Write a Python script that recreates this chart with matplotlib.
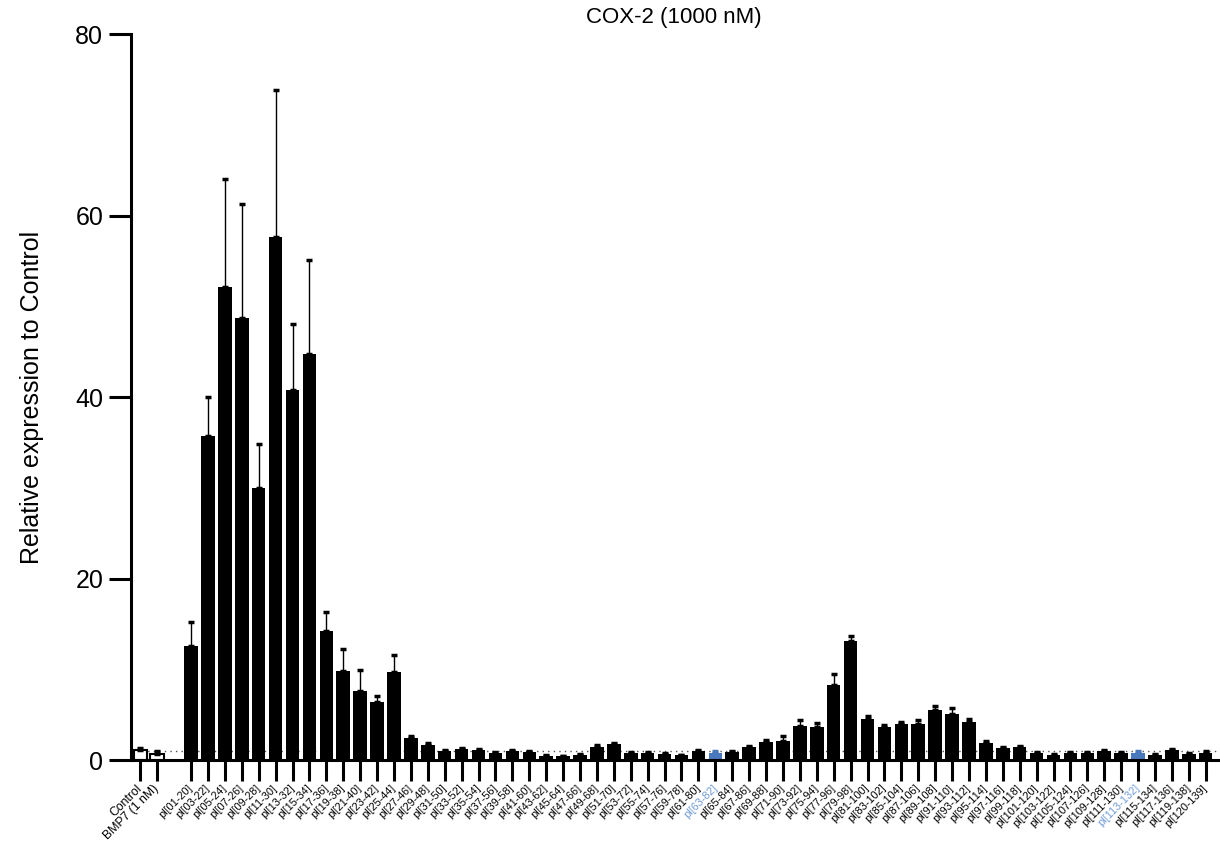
import matplotlib
matplotlib.use('Agg')
import matplotlib.pyplot as plt
import numpy as np

plt.rcParams['font.family'] = ['Liberation Sans', 'DejaVu Sans']

# controls
ctrl_labels = ['Control', 'BMP7 (1 nM)']
ctrl_values = [1.1, 0.7]
ctrl_errors = [0.2, 0.25]

# peptide library (relative expression, mean + SD)
peptide_labels = [
    'pl[01-20]', 'pl[03-22]', 'pl[05-24]', 'pl[07-26]', 'pl[09-28]', 'pl[11-30]',
    'pl[13-32]', 'pl[15-34]', 'pl[17-36]', 'pl[19-38]', 'pl[21-40]', 'pl[23-42]',
    'pl[25-44]', 'pl[27-46]', 'pl[29-48]', 'pl[31-50]', 'pl[33-52]', 'pl[35-54]',
    'pl[37-56]', 'pl[39-58]', 'pl[41-60]', 'pl[43-62]', 'pl[45-64]', 'pl[47-66]',
    'pl[49-68]', 'pl[51-70]', 'pl[53-72]', 'pl[55-74]', 'pl[57-76]', 'pl[59-78]',
    'pl[61-80]', 'pl[63-82]', 'pl[65-84]', 'pl[67-86]', 'pl[69-88]', 'pl[71-90]',
    'pl[73-92]', 'pl[75-94]', 'pl[77-96]', 'pl[79-98]', 'pl[81-100]', 'pl[83-102]',
    'pl[85-104]', 'pl[87-106]', 'pl[89-108]', 'pl[91-110]', 'pl[93-112]', 'pl[95-114]',
    'pl[97-116]', 'pl[99-118]', 'pl[101-120]', 'pl[103-122]', 'pl[105-124]',
    'pl[107-126]', 'pl[109-128]', 'pl[111-130]', 'pl[113-132]', 'pl[115-134]',
    'pl[117-136]', 'pl[119-138]', 'pl[120-139]',
]
peptide_values = [
    12.6, 35.7, 52.1, 48.7, 30.0, 57.6, 40.8, 44.7, 14.2, 9.8, 7.6, 6.4,
    9.7, 2.4, 1.7, 1.0, 1.2, 1.1, 0.8, 1.0, 0.9, 0.45, 0.4, 0.6,
    1.4, 1.8, 0.8, 0.75, 0.65, 0.55, 1.0, 0.8, 0.9, 1.45, 2.0, 2.1,
    3.8, 3.6, 8.3, 13.1, 4.5, 3.6, 4.0, 4.0, 5.5, 5.1, 4.2, 1.9,
    1.3, 1.4, 0.8, 0.6, 0.8, 0.8, 1.0, 0.8, 0.8, 0.6, 1.1, 0.7, 0.8,
]
peptide_errors = [
    2.6, 4.3, 11.9, 12.6, 4.8, 16.2, 7.2, 10.4, 2.1, 2.4, 2.3, 0.6,
    1.9, 0.2, 0.2, 0.1, 0.1, 0.15, 0.1, 0.1, 0.1, 0.05, 0.05, 0.1,
    0.2, 0.1, 0.1, 0.1, 0.1, 0.05, 0.1, 0.15, 0.1, 0.1, 0.2, 0.5,
    0.6, 0.5, 1.2, 0.6, 0.35, 0.3, 0.15, 0.4, 0.5, 0.6, 0.35, 0.15,
    0.1, 0.15, 0.1, 0.05, 0.1, 0.1, 0.1, 0.1, 0.15, 0.05, 0.15, 0.1, 0.15,
]
highlighted = ['pl[63-82]', 'pl[113-132]']

BLUE = '#4a78bd'
LABEL_BLUE = '#6f9bd6'

fig = plt.figure(figsize=(12.2, 8.47), dpi=100)
ax = fig.add_axes([0.1074, 0.1027, 0.8906, 0.857])

x_ctrl = np.arange(len(ctrl_labels))
x_pep = np.arange(len(peptide_labels)) + len(ctrl_labels) + 1

ax.axhline(1, ls=(0, (1, 3)), color='#555555', lw=1, zorder=0)

ax.bar(x_ctrl, ctrl_values, width=0.8, color='white', edgecolor='black', lw=1.5, zorder=2)
ax.errorbar(x_ctrl, ctrl_values, yerr=[np.zeros(len(ctrl_values)), ctrl_errors],
            fmt='none', ecolor='black', elinewidth=1, capsize=2, capthick=2.5, zorder=3)

bar_colors = [BLUE if lab in highlighted else 'black' for lab in peptide_labels]
ax.bar(x_pep, peptide_values, width=0.8, color=bar_colors, lw=0, zorder=2)
for xi, v, e, c in zip(x_pep, peptide_values, peptide_errors, bar_colors):
    ax.errorbar([xi], [v], yerr=[[0], [e]], fmt='none', ecolor=c,
                elinewidth=1, capsize=2, capthick=2.5, zorder=3)

ax.set_xlim(-0.55, 63.7)
ax.set_ylim(0, 80)
ax.set_yticks([0, 20, 40, 60, 80])

ax.set_xticks(list(x_ctrl) + list(x_pep))
ax.set_xticklabels(ctrl_labels + peptide_labels, rotation=45, ha='right',
                   va='center', rotation_mode='anchor')
for lab in ax.get_xticklabels():
    txt = lab.get_text()
    if txt in ctrl_labels:
        lab.set_fontsize(8.8)
    else:
        lab.set_fontsize(7.8)
    if txt in highlighted:
        lab.set_color(LABEL_BLUE)
for tick, txt in zip(ax.xaxis.get_major_ticks(), ctrl_labels + peptide_labels):
    if txt in highlighted:
        tick.tick1line.set_color(BLUE)

ax.tick_params(axis='x', length=15, width=2.2, pad=4)
ax.tick_params(axis='y', length=16, width=2.2, labelsize=18, pad=4)

for side in ['top', 'right']:
    ax.spines[side].set_visible(False)
for side in ['left', 'bottom']:
    ax.spines[side].set_linewidth(2.2)

ax.set_ylabel('Relative expression to Control', fontsize=18)
ax.yaxis.set_label_coords(-0.08, 0.5)
ax.set_title('COX-2 (1000 nM)', fontsize=16, pad=8)

fig.savefig('out.png', dpi=100)
